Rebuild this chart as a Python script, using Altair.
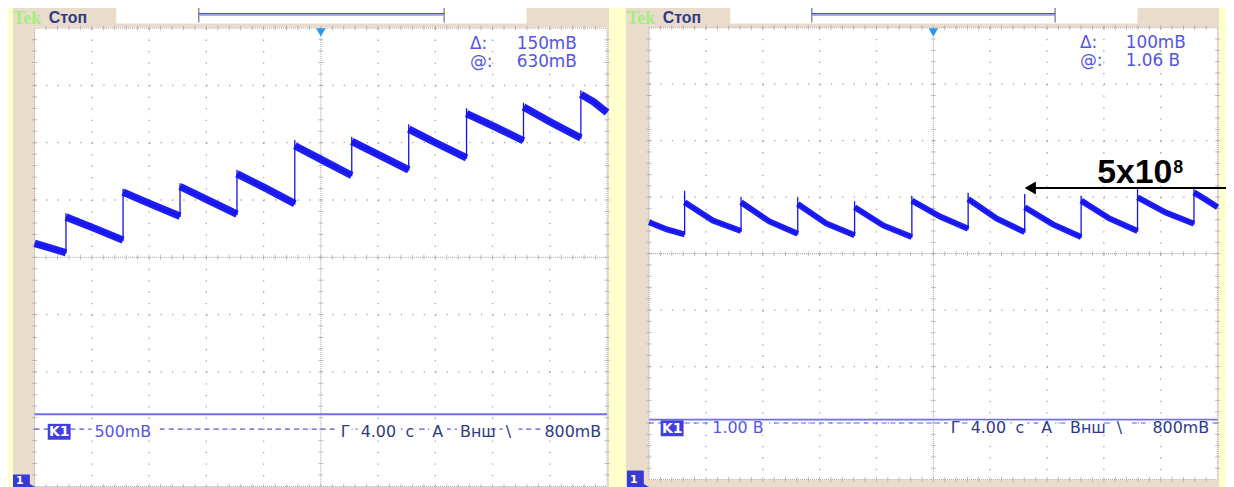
import altair as alt
import pandas as pd

# ---------------- values read from the two oscilloscope screens ----------------
# time axis: 4.00 s/div, 10 div ; voltage: ground at bottom edge
X_DIVS = [-20, -16, -12, -8, -4, 0, 4, 8, 12, 16, 20]
Y_DIVS_L = [0.0, 0.5, 1.0, 1.5, 2.0, 2.5, 3.0, 3.5, 4.0]     # 500 mV/div
Y_DIVS_R = [0, 1, 2, 3, 4, 5, 6, 7, 8]                        # 1.00 V/div

# left screen: step times, spike peaks, and level after step / mid / before next step
L_JUMP_T = [-17.81, -13.82, -9.84, -5.86, -1.82, 2.16, 6.14, 10.18, 14.16, 18.17]
L_PEAK = [2.384, 2.598, 2.647, 2.763, 3.023, 3.052, 3.162, 3.301, 3.349, 3.457]
L_START = [2.122, 2.352, 2.569, 2.618, 2.728, 2.974, 3.011, 3.119, 3.254, 3.312, 3.422]
L_MID = [2.081, 2.252, 2.462, 2.497, 2.601, 2.844, 2.887, 2.991, 3.139, 3.173, 3.355]
L_END = [2.040, 2.150, 2.358, 2.376, 2.468, 2.714, 2.763, 2.867, 3.017, 3.041, 3.263]

# right screen
R_JUMP_T = [-17.50, -13.53, -9.54, -5.54, -1.51, 2.45, 6.43, 10.40, 14.37, 18.34]
R_PEAK = [5.114, 4.996, 4.996, 4.926, 5.026, 5.079, 5.056, 5.026, 5.144, 5.172]
R_START = [4.557, 4.909, 4.909, 4.880, 4.821, 4.938, 4.968, 4.821, 4.938, 4.996, 5.084]
R_MID = [4.429, 4.587, 4.569, 4.534, 4.499, 4.657, 4.622, 4.517, 4.622, 4.728, 4.956]
R_END = [4.341, 4.399, 4.353, 4.323, 4.293, 4.441, 4.381, 4.293, 4.399, 4.529, 4.821]

L_CURSOR = 0.63
R_CURSOR = 1.06
READ_LABELS = ["Δ:", "@:"]
L_READ_VALS = ["150mВ", "630mВ"]
R_READ_VALS = ["100mВ", "1.06 В"]
L_CH_TXT = "500mВ"
R_CH_TXT = "1.00 В"
STATUS_WORDS = ["Г", "4.00", "с", "A", "Внш", "\\", "800mВ"]
ANNOT_MAIN = "5x10"
ANNOT_SUP = "8"

# ---------------- styles ----------------
YELLOW = "#FFFFCC"
BEIGE = "#E9DCCB"
TRACE = "#1212F0"
GRIDC = "#A2A2A2"
READC = "#5454E6"
NAVY = "#2E3A86"
CURS = "#6E6EEA"
TRIG = "#2F96E6"
ONE = pd.DataFrame({"k": [0]})


def P(v):
    return v - 8  # page margin offset


LX = alt.Scale(domain=[X_DIVS[0], X_DIVS[-1]], range=[P(34.8), P(611.0)], nice=False, zero=False)
LY = alt.Scale(domain=[Y_DIVS_L[0], Y_DIVS_L[-1]], range=[P(488.0), P(26.7)], nice=False, zero=False)
RX = alt.Scale(domain=[X_DIVS[0], X_DIVS[-1]], range=[P(653.3), P(1225.5)], nice=False, zero=False)
RY = alt.Scale(domain=[Y_DIVS_R[0], Y_DIVS_R[-1]], range=[P(481.0), P(26.3)], nice=False, zero=False)


def rect(x1, y1, x2, y2, color, **kw):
    return alt.Chart(ONE).mark_rect(color=color, **kw).encode(
        x=alt.value(P(x1)), x2=alt.value(P(x2)), y=alt.value(P(y1)), y2=alt.value(P(y2)))


def hline(x1, x2, y, color, width=1, **kw):
    return alt.Chart(ONE).mark_rule(color=color, strokeWidth=width, **kw).encode(
        x=alt.value(P(x1)), x2=alt.value(P(x2)), y=alt.value(P(y)))


def vline(x, y1, y2, color, width=1, **kw):
    return alt.Chart(ONE).mark_rule(color=color, strokeWidth=width, **kw).encode(
        x=alt.value(P(x)), y=alt.value(P(y1)), y2=alt.value(P(y2)))


def txt(s, x, y, size, color, font="DejaVu Sans", weight="normal", align="left", baseline="alphabetic"):
    return alt.Chart(ONE).mark_text(text=s, fontSize=size, color=color, font=font, fontWeight=weight,
                                    align=align, baseline=baseline).encode(
        x=alt.value(P(x)), y=alt.value(P(y)))


def grid_layers(xs, ys, sx, sy, dot_v, dot_h):
    xc = xs[len(xs) // 2]
    yc = ys[len(ys) // 2]
    inner_x = [x for x in xs[1:-1] if x != xc]
    inner_y = [y for y in ys[1:-1] if y != yc]
    X = lambda f: alt.X(f, scale=sx, axis=None)
    Y = lambda f: alt.Y(f, scale=sy, axis=None)
    vl = pd.DataFrame({"t": inner_x, "a": ys[-1], "b": ys[0]})
    hl = pd.DataFrame({"v": inner_y, "a": xs[0], "b": xs[-1]})
    dv = pd.DataFrame({"t": [xs[0], xc, xs[-1]], "a": ys[-1], "b": ys[0]})
    dh = pd.DataFrame({"v": [ys[0], yc, ys[-1]], "a": xs[0], "b": xs[-1]})
    mx = (xs[1] - xs[0]) / 5
    my = (ys[1] - ys[0]) / 5
    minor_x = [xs[0] + i * mx for i in range(1, 5 * (len(xs) - 1))]
    minor_y = [ys[0] + i * my for i in range(1, 5 * (len(ys) - 1))]
    tx = pd.DataFrame([{"t": t, "v": v} for v in [ys[0], yc, ys[-1]] for t in minor_x])
    ty = pd.DataFrame([{"t": t, "v": v} for t in [xs[0], xc, xs[-1]] for v in minor_y])
    return [
        alt.Chart(vl).mark_rule(color=GRIDC, strokeWidth=1.3, strokeDash=dot_v).encode(
            x=X("t:Q"), y=Y("a:Q"), y2="b:Q"),
        alt.Chart(hl).mark_rule(color=GRIDC, strokeWidth=1.3, strokeDash=dot_h).encode(
            y=Y("v:Q"), x=X("a:Q"), x2="b:Q"),
        alt.Chart(dv).mark_rule(color=GRIDC, strokeWidth=1, strokeDash=[1, 1]).encode(
            x=X("t:Q"), y=Y("a:Q"), y2="b:Q"),
        alt.Chart(dh).mark_rule(color=GRIDC, strokeWidth=1, strokeDash=[1, 1]).encode(
            y=Y("v:Q"), x=X("a:Q"), x2="b:Q"),
        alt.Chart(tx).mark_tick(orient="vertical", size=5, thickness=1, color=GRIDC).encode(
            x=X("t:Q"), y=Y("v:Q")),
        alt.Chart(ty).mark_tick(orient="horizontal", size=5, thickness=1, color=GRIDC).encode(
            x=X("t:Q"), y=Y("v:Q")),
    ]


def trace_df(jt, pk, st, md, en):
    bounds = [X_DIVS[0]] + jt + [X_DIVS[-1]]
    rows = []
    for i in range(len(st)):
        t0, t1 = bounds[i], bounds[i + 1]
        if i > 0:
            rows.append((t0, pk[i - 1], i, 0))
        rows += [(t0, st[i], i, 1), ((t0 + t1) / 2, md[i], i, 1), (t1, en[i], i, 1)]
    df = pd.DataFrame(rows, columns=["t", "v", "seg", "body"])
    df["o"] = range(len(df))
    return df


def trace_layers(df, sx, sy, width):
    X = alt.X("t:Q", scale=sx, axis=None)
    Y = alt.Y("v:Q", scale=sy, axis=None)
    return [
        alt.Chart(df[df.body == 1]).mark_line(color=TRACE, strokeWidth=width, strokeCap="butt",
                                              opacity=0.95).encode(
            x=X, y=Y, detail="seg:N", order="o:Q"),
        alt.Chart(df).mark_line(color=TRACE, strokeWidth=1.3).encode(x=X, y=Y, order="o:Q"),
    ]


def cursor_layer(v, sx, sy):
    d = pd.DataFrame({"v": [v], "a": [X_DIVS[0]], "b": [X_DIVS[-1]]})
    return alt.Chart(d).mark_rule(color=CURS, strokeWidth=2).encode(
        y=alt.Y("v:Q", scale=sy, axis=None), x=alt.X("a:Q", scale=sx, axis=None), x2="b:Q")


def chan_line(v, sx, sy):
    d = pd.DataFrame({"v": [v], "a": [X_DIVS[0]], "b": [X_DIVS[-1]]})
    return alt.Chart(d).mark_rule(color="#5C5CE2", strokeWidth=1.2, strokeDash=[5, 4]).encode(
        y=alt.Y("v:Q", scale=sy, axis=None), x=alt.X("a:Q", scale=sx, axis=None), x2="b:Q")


def trig_marker(sx, y):
    d = pd.DataFrame({"t": [X_DIVS[len(X_DIVS) // 2]]})
    return alt.Chart(d).mark_point(shape="triangle-down", filled=True, size=95, color=TRIG, opacity=1).encode(
        x=alt.X("t:Q", scale=sx, axis=None), y=alt.value(P(y)))


def top_bar(x0, box1, box2, br1, br2, trig_x):
    return [
        rect(box1, 4, box2, 22, "white"),
        vline(br1, 5, 21, "#8A8AB4", 1.5),
        vline(br2, 5, 21, "#8A8AB4", 1.5),
        hline(br1, br2, 12.3, "#4B4BD8", 1.5),
        hline(br1, br2, 14.0, "#A8A8EE", 1),
        txt("Tek", x0, 22.5, 18, "#A4EE7E", font="Liberation Serif", weight="bold"),
        txt("Стоп", x0 + 36, 21.5, 16, NAVY, font="Liberation Sans", weight="bold"),
    ]


def status_row(xs, ws, y):
    out = []
    for w, x, wd in zip(STATUS_WORDS, xs, ws):
        out.append(rect(x - 3, y - 7, x + wd + 3, y + 7, "white"))
        out.append(txt(w, x, y, 16, NAVY, baseline="middle"))
    return out


def k1(x, y, val_x, val_txt, val_w):
    return [
        rect(val_x - 3, y - 7, val_x + val_w + 3, y + 7, "white"),
        rect(x, y - 8, x + 23, y + 8, "#3F3FDA"),
        txt("K1", x + 11.5, y + 0.5, 14, "white", weight="bold", align="center", baseline="middle"),
        txt(val_txt, val_x, y, 16, READC, baseline="middle"),
    ]


def ch_marker(x, y1, y2, ytxt):
    return [
        rect(x, y1, x + 17, y2, "#3A3AD0"),
        alt.Chart(ONE).mark_point(shape="triangle-right", filled=True, size=90, color="#3A3AD0", opacity=1).encode(
            x=alt.value(P(x + 19)), y=alt.value(P(y2 - 1))),
        txt("1", x + 7, ytxt, 11, "white", weight="bold", align="center"),
    ]


layers = []
# frames
layers += [rect(13, 0, 613, 495, BEIGE), rect(630, 0, 1227, 495, BEIGE)]
layers += [rect(34.8, 26, 611.5, 495, "white"), rect(653.3, 26, 1226, 481.5, "white")]
# top status bars
layers += top_bar(13, 117, 530, 200, 447, 323)
layers += top_bar(631, 735, 1145, 817, 1062, 940)
# grids
layers += grid_layers(X_DIVS, Y_DIVS_L, LX, LY, [1.3, 10.23], [1.3, 10.22])
layers += grid_layers(X_DIVS, Y_DIVS_R, RX, RY, [1.3, 10.08], [1.3, 10.14])
# cursors and channel rows
layers += [cursor_layer(L_CURSOR, LX, LY), cursor_layer(R_CURSOR, RX, RY)]
layers += [chan_line(Y_DIVS_L[1], LX, LY), chan_line(Y_DIVS_R[1], RX, RY)]
# traces
layers += trace_layers(trace_df(L_JUMP_T, L_PEAK, L_START, L_MID, L_END), LX, LY, 7.5)
layers += trace_layers(trace_df(R_JUMP_T, R_PEAK, R_START, R_MID, R_END), RX, RY, 6)
# trigger markers
layers += [trig_marker(LX, 31), trig_marker(RX, 31)]
# readouts
for i, (lab, lv, rv) in enumerate(zip(READ_LABELS, L_READ_VALS, R_READ_VALS)):
    yb = 48 + 18 * i
    layers += [txt(lab, 473, yb, 17, READC), txt(lv, 520, yb, 17, READC),
               txt(lab, 1087, yb - 1, 17, READC), txt(rv, 1133, yb - 1, 17, READC)]
# channel / timebase rows
layers += k1(48, 433, 95, L_CH_TXT, 62)
layers += k1(665, 429.5, 717, R_CH_TXT, 54)
layers += status_row([343, 363, 408, 435, 463, 509, 548], [8, 37, 9, 12, 27, 10, 57], 433)
layers += status_row([957, 977, 1022, 1048, 1077, 1124, 1160], [8, 37, 9, 11, 28, 10, 57], 429)
# channel markers
layers += ch_marker(13, 476, 490, 486) + ch_marker(631, 472, 490, 485)
# annotation arrow on right screen
layers += [
    hline(1040, 1234, 187.7, "black", 2),
    alt.Chart(ONE).mark_point(shape="triangle-left", filled=True, size=170, color="black", opacity=1).encode(
        x=alt.value(P(1037)), y=alt.value(P(187.7))),
    txt(ANNOT_MAIN, 1180, 182.5, 34, "black", font="Liberation Sans", weight="bold", align="right"),
    txt(ANNOT_SUP, 1181, 172.5, 18, "black", font="Liberation Sans", weight="bold"),
]

chart = alt.layer(*layers).resolve_scale(x="independent", y="independent").properties(
    width=1226, height=479, padding=0,
    autosize=alt.AutoSizeParams(type="none"),
    background=YELLOW,
).configure_view(stroke=None)

chart.save("out.html", embed_options={"renderer": "svg", "actions": False})
